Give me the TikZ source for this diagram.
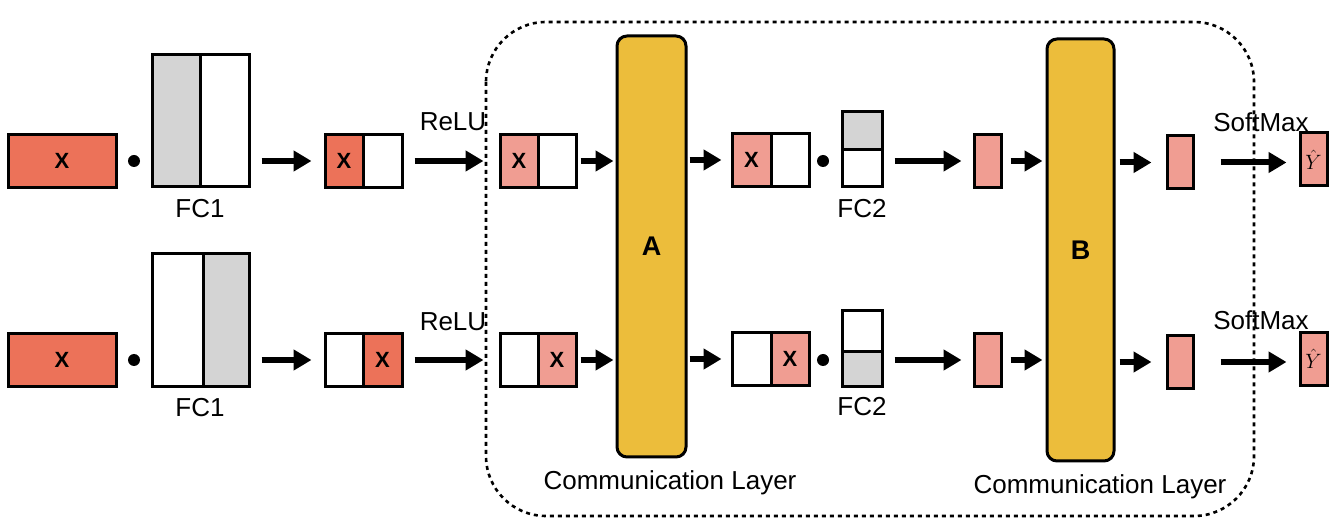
\documentclass[tikz,border=0pt]{standalone}
\usepackage{fontspec}
\setmainfont{Liberation Sans}
\usetikzlibrary{arrows.meta}
\definecolor{coral}{HTML}{EC7259}
\definecolor{pinkc}{HTML}{F09D92}
\definecolor{gold}{HTML}{ECBD3B}
\definecolor{grayc}{HTML}{D4D4D4}
\begin{document}
\begin{tikzpicture}[x=1pt,y=-1pt,
  cell/.style={draw, line width=3pt, inner sep=0pt, minimum height=53pt, font=\fontsize{22}{26}\selectfont\bfseries},
  layer/.style={draw, line width=3pt, fill=gold, rounded corners=10pt, inner sep=0pt, font=\fontsize{27}{32}\selectfont\bfseries},
  lbl/.style={inner sep=0pt, font=\fontsize{26}{31}\selectfont},
  dotn/.style={circle, fill=black, inner sep=0pt, minimum size=12pt},
  arr/.style={-{Triangle[length=18pt,width=20pt]}, line width=6pt},
  region/.style={line width=2.6pt, dash pattern=on 4pt off 4pt, rounded corners=60pt}
]
\useasboundingbox (0,0) rectangle (1342,526);

% ---------- row 1 ----------
\node[cell, fill=coral, minimum width=108pt] (x1) at (62,161) {X};
\node[dotn] (d1) at (134,161) {};
\node[cell, fill=grayc, minimum width=48pt, minimum height=132pt] (f1a) at (176,121) {};
\node[cell, fill=white, minimum width=49pt, minimum height=132pt] (f1b) at (224.5,121) {};
\node[lbl] (fc1t) at (200,209) {FC1};
\node[cell, fill=coral, minimum width=38pt] (h1a) at (344,161) {X};
\node[cell, fill=white, minimum width=39pt] (h1b) at (382.5,161) {};
\node[lbl] (relu1) at (453,122) {ReLU};
\node[cell, fill=pinkc, minimum width=38pt] (p1a) at (519,161) {X};
\node[cell, fill=white, minimum width=38pt] (p1b) at (557,161) {};
\node[cell, fill=pinkc, minimum width=39pt] (q1a) at (751.5,160) {X};
\node[cell, fill=white, minimum width=38pt] (q1b) at (790,160) {};
\node[dotn] (d2) at (823,161) {};
\node[cell, fill=grayc, minimum width=40pt, minimum height=38pt] (g1a) at (862,131) {};
\node[cell, fill=white, minimum width=40pt, minimum height=37pt] (g1b) at (862,168.5) {};
\node[lbl] (fc2t) at (862,209) {FC2};
\node[cell, fill=pinkc, minimum width=27pt] (s1) at (987.5,161) {};
\node[cell, fill=pinkc, minimum width=26pt] (t1) at (1180,162.5) {};
\node[lbl] (sm1) at (1261,122) {SoftMax};
\node[cell, fill=pinkc, minimum width=27pt, font=\fontsize{21}{25}\selectfont] (y1) at (1313.5,159.5) {$\hat{Y}$};

% ---------- row 2 ----------
\node[cell, fill=coral, minimum width=108pt] (x2) at (62,360) {X};
\node[dotn] (d3) at (134,360) {};
\node[cell, fill=white, minimum width=51pt, minimum height=133pt] (f2a) at (177.5,320.5) {};
\node[cell, fill=grayc, minimum width=46pt, minimum height=133pt] (f2b) at (226,320.5) {};
\node[lbl] (fc1b) at (200,408) {FC1};
\node[cell, fill=white, minimum width=38pt] (h2a) at (344,360) {};
\node[cell, fill=coral, minimum width=39pt] (h2b) at (382.5,360) {X};
\node[lbl] (relu2) at (453,322) {ReLU};
\node[cell, fill=white, minimum width=38pt] (p2a) at (519,360) {};
\node[cell, fill=pinkc, minimum width=38pt] (p2b) at (557,360) {X};
\node[cell, fill=white, minimum width=39pt] (q2a) at (751.5,359) {};
\node[cell, fill=pinkc, minimum width=38pt] (q2b) at (790,359) {X};
\node[dotn] (d4) at (823,360) {};
\node[cell, fill=white, minimum width=40pt, minimum height=41pt] (g2a) at (862,331.5) {};
\node[cell, fill=grayc, minimum width=40pt, minimum height=35pt] (g2b) at (862,369.5) {};
\node[lbl] (fc2b) at (862,407) {FC2};
\node[cell, fill=pinkc, minimum width=27pt] (s2) at (987.5,360) {};
\node[cell, fill=pinkc, minimum width=26pt] (t2) at (1180,362) {};
\node[lbl] (sm2) at (1261,320) {SoftMax};
\node[cell, fill=pinkc, minimum width=27pt, font=\fontsize{21}{25}\selectfont] (y2) at (1313.5,359) {$\hat{Y}$};

% ---------- communication layers ----------
\node[layer, minimum width=69pt, minimum height=421pt] (A) at (651.5,246.5) {A};
\node[layer, minimum width=67pt, minimum height=422pt] (B) at (1080.5,250) {B};
\node[lbl] (cl1) at (670,483) {Communication Layer};
\node[lbl] (cl2) at (1100,487) {Communication Layer};

% ---------- arrows row 1 ----------
\draw[arr, shorten <=11pt, shorten >=12pt] (f1b.east |- h1a.west) -- (h1a.west);
\draw[arr, shorten <=11pt, shorten >=15pt] (h1b.east) -- (p1a.west);
\draw[arr, shorten <=3pt, shorten >=2pt] (p1b.east) -- (A.west |- p1b.east);
\draw[arr, shorten <=2pt, shorten >=9pt] (A.east |- q1a.west) -- (q1a.west);
\draw[arr, shorten <=11pt, shorten >=11pt] (g1b.east |- s1.west) -- (s1.west);
\draw[arr, shorten <=8pt, shorten >=3pt] (s1.east) -- (B.west |- s1.east);
\draw[arr, shorten <=4pt, shorten >=14pt] (B.east |- t1.west) -- (t1.west);
\draw[arr, shorten <=26pt, shorten >=12pt] (t1.east) -- (y1.west |- t1.east);

% ---------- arrows row 2 ----------
\draw[arr, shorten <=11pt, shorten >=12pt] (f2b.east |- h2a.west) -- (h2a.west);
\draw[arr, shorten <=11pt, shorten >=15pt] (h2b.east) -- (p2a.west);
\draw[arr, shorten <=3pt, shorten >=2pt] (p2b.east) -- (A.west |- p2b.east);
\draw[arr, shorten <=2pt, shorten >=9pt] (A.east |- q2a.west) -- (q2a.west);
\draw[arr, shorten <=11pt, shorten >=11pt] (g2b.east |- s2.west) -- (s2.west);
\draw[arr, shorten <=8pt, shorten >=3pt] (s2.east) -- (B.west |- s2.east);
\draw[arr, shorten <=4pt, shorten >=14pt] (B.east |- t2.west) -- (t2.west);
\draw[arr, shorten <=26pt, shorten >=12pt] (t2.east) -- (y2.west |- t2.east);

% ---------- dashed region ----------
\draw[region] (486,22) rectangle (1254,516);
\end{tikzpicture}
\end{document}
